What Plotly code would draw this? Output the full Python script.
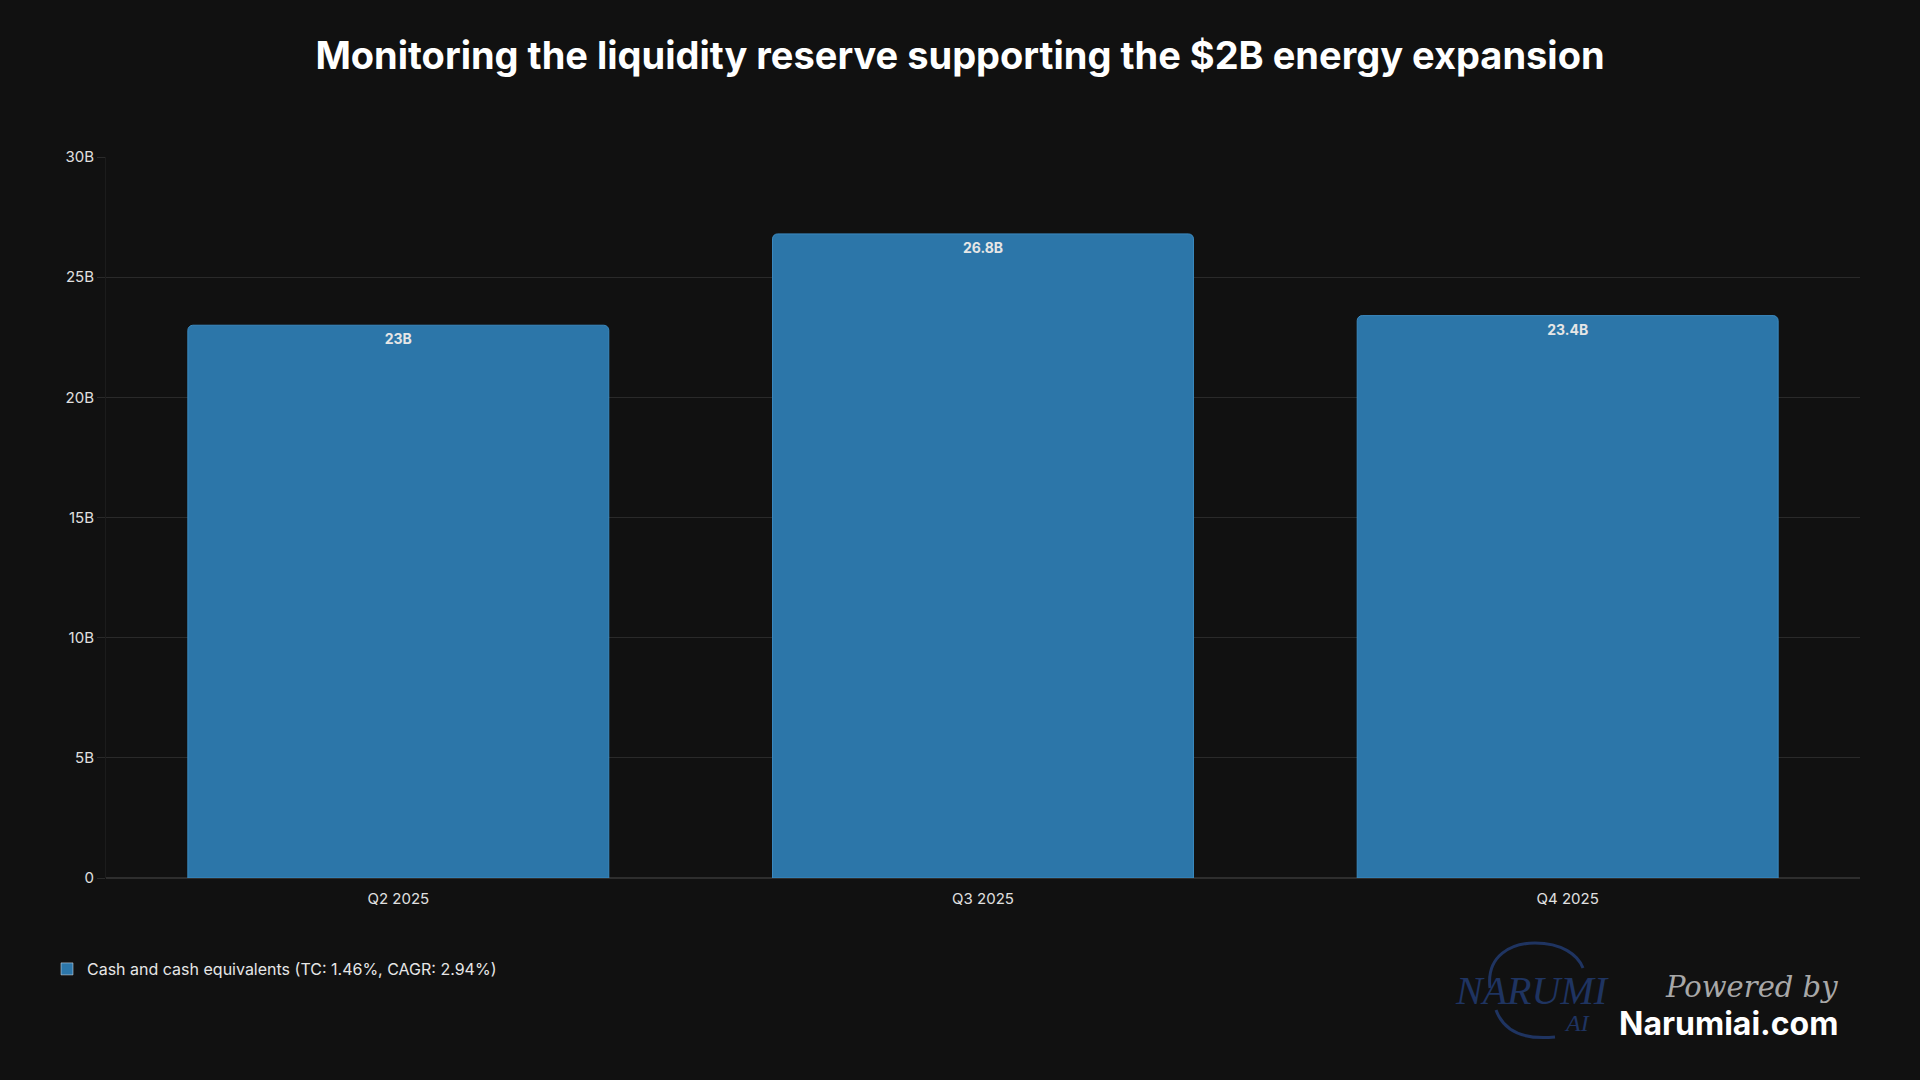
import plotly.graph_objects as go

# ---- data ----
categories = ["Q2 2025", "Q3 2025", "Q4 2025"]
cash_values = [23.0e9, 26.8e9, 23.4e9]
value_labels = ["23B", "26.8B", "23.4B"]
series_name = "Cash and cash equivalents (TC: 1.46%, CAGR: 2.94%)"
y_tickvals = [0, 5e9, 10e9, 15e9, 20e9, 25e9, 30e9]
y_ticktext = ["0", "5B", "10B", "15B", "20B", "25B", "30B"]
title_text = "Monitoring the liquidity reserve supporting the $2B energy expansion"

W, H = 1920, 1080
ML, MR, MT, MB = 106, 60, 157, 202
PW, PH = W - ML - MR, H - MT - MB

def px(x):
    return (x - ML) / PW

def py(y):
    return (H - MB - y) / PH

BG = "#111111"
GRID = "#2a2a2a"
BAR = "#2c76a9"
FONT = "Inter, Roboto, 'Noto Sans', sans-serif"

fig = go.Figure()
fig.add_trace(go.Bar(
    x=categories,
    y=cash_values,
    name=series_name,
    text=value_labels,
    textposition="inside",
    insidetextanchor="end",
    textangle=0,
    textfont=dict(family=FONT, size=14, color="#e6e6e6", weight="bold"),
    marker=dict(color=BAR, line=dict(color="#3b8ac0", width=1), cornerradius=5),
    showlegend=False,
    legendgroup="cash",
))
# legend entry (square swatch)
fig.add_trace(go.Bar(
    x=[categories[0]], y=[None],
    name=series_name,
    marker=dict(color=BAR),
    showlegend=True,
    legendgroup="cash",
    hoverinfo="skip",
))

annotations = [
    dict(text="NARUMI", x=px(1532), y=py(990), xref="paper", yref="paper",
         showarrow=False, font=dict(family="Liberation Serif, DejaVu Serif, serif", size=40,
                                    color="#1f3461", style="italic"),
         xanchor="center", yanchor="middle"),
    dict(text="AI", x=px(1577), y=py(1023), xref="paper", yref="paper",
         showarrow=False, font=dict(family="Liberation Serif, DejaVu Serif, serif", size=24,
                                    color="#1f3461", style="italic"),
         xanchor="center", yanchor="middle"),
    dict(text="Powered by", x=px(1840), y=py(987), xref="paper", yref="paper",
         showarrow=False, font=dict(family="'DejaVu Serif', serif", size=29,
                                    color="#a8a8a8", style="italic"),
         xanchor="right", yanchor="middle"),
    dict(text="<b>Narumiai.com</b>", x=px(1840), y=py(1024), xref="paper", yref="paper",
         showarrow=False, font=dict(family=FONT, size=32, color="#ffffff"),
         xanchor="right", yanchor="middle"),
]

def pt(x, y):
    return f"{px(x)},{py(y)}"

arc1 = ("M " + pt(1490, 988) + " C " + pt(1486, 955) + " " + pt(1512, 943) + " " + pt(1535, 943)
        + " C " + pt(1562, 943) + " " + pt(1578, 955) + " " + pt(1583, 968))
arc2 = ("M " + pt(1496, 1010) + " C " + pt(1504, 1032) + " " + pt(1525, 1040) + " " + pt(1555, 1037))

shapes = [
    dict(type="path", path=arc1, xref="paper", yref="paper",
         line=dict(color="#1f3461", width=3)),
    dict(type="path", path=arc2, xref="paper", yref="paper",
         line=dict(color="#1f3461", width=3)),
]

fig.update_layout(
    width=W, height=H,
    paper_bgcolor=BG, plot_bgcolor=BG,
    margin=dict(l=ML, r=MR, t=MT, b=MB),
    title=dict(text=title_text, x=0.5, xanchor="center", y=1 - 56 / H, yanchor="middle",
               yref="container",
               font=dict(family=FONT, size=38, color="#ffffff", weight="bold")),
    bargap=0.28,
    barmode="overlay",
    font=dict(family=FONT, color="#e0e0e0"),
    xaxis=dict(showgrid=False, tickfont=dict(family=FONT, size=15, color="#e0e0e0"),
               showline=False, ticks="", zeroline=False, ticklabelstandoff=10),
    yaxis=dict(range=[0, 30e9], tickvals=y_tickvals, ticktext=y_ticktext,
               tickfont=dict(family=FONT, size=15, color="#e0e0e0"),
               gridcolor=GRID, gridwidth=1, zeroline=True, zerolinecolor="#2e2e2e",
               zerolinewidth=2, ticks="outside", ticklen=8, tickcolor=GRID,
               showline=True, linecolor="#1c1c1c", linewidth=1),
    legend=dict(x=px(47), y=py(969), xanchor="left", yanchor="middle",
                font=dict(family=FONT, size=16, color="#e6e6e6"),
                bgcolor="rgba(0,0,0,0)", orientation="h"),
    annotations=annotations,
    shapes=shapes,
)

fig.write_html("out.html")
